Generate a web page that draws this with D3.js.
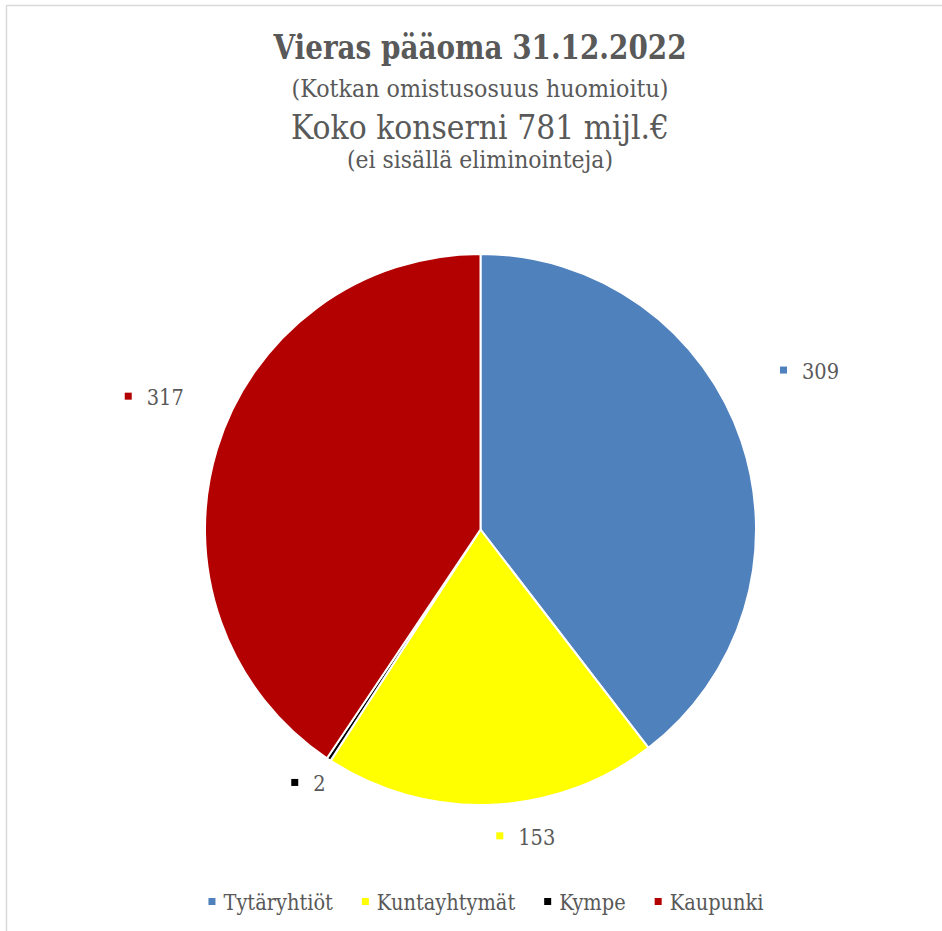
<!DOCTYPE html>
<html>
<head>
<meta charset="utf-8">
<script src="https://cdn.jsdelivr.net/npm/d3@7"></script>
<style>
  body { margin: 0; background: #fff; }
  svg text { fill: #595959; }
</style>
</head>
<body>
<div id="vis"></div>
<script>
// data
var categories = ['Tytäryhtiöt', 'Kuntayhtymät', 'Kympe', 'Kaupunki'];
var values = [309, 153, 2, 317];
var colors = ['#4f81bd', '#ffff00', '#000000', '#b30000'];
var titleLines = [
  'Vieras pääoma 31.12.2022',
  '(Kotkan omistusosuus huomioitu)',
  'Koko konserni 781 mijl.€',
  '(ei sisällä eliminointeja)'
];

// layout
var width = 942, height = 931;
var cx = 480.5, cy = 529.5, radius = 275.5;
var serif = "'DejaVu Serif', serif";
var fs = 0.91;   // DejaVu Serif is taller than Times, scale sizes down
// nudges for the data labels (Excel best fit is not regular)
var labelNudge = [[16, -52], [32, -23], [10, -22], [-10, -36]];

var svg = d3.select('#vis').append('svg')
  .attr('width', width)
  .attr('height', height)
  .attr('font-family', serif);

// outer chart border
svg.append('rect')
  .attr('x', 6.5).attr('y', 5.5)
  .attr('width', 1000).attr('height', 1000)
  .attr('fill', 'none')
  .attr('stroke', '#d9d9d9')
  .attr('stroke-width', 1.5);

// squeeze a text horizontally to a given length
function squeeze(node, len) {
  d3.select(node)
    .attr('textLength', len)
    .attr('lengthAdjust', 'spacingAndGlyphs');
}

// title (widths)
var titleStyle = [
  { size: 37, weight: 'bold', y: 59, w: 413 },
  { size: 27.5, weight: 'normal', y: 97, w: 377 },
  { size: 37, weight: 'normal', y: 139, w: 378 },
  { size: 27.5, weight: 'normal', y: 168, w: 266 }
];
var ratio = 1;
svg.selectAll('.title')
  .data(titleLines)
  .enter().append('text')
  .attr('class', 'title')
  .attr('x', 480)
  .attr('y', function(d, i) { return titleStyle[i].y; })
  .attr('text-anchor', 'middle')
  .attr('font-size', function(d, i) { return titleStyle[i].size * fs; })
  .attr('font-weight', function(d, i) { return titleStyle[i].weight; })
  .text(function(d) { return d; })
  .each(function(d, i) {
    var w = this.getComputedTextLength();
    if (i === 2) ratio = titleStyle[i].w / w;
    squeeze(this, titleStyle[i].w);
  });

var data = categories.map(function(c, i) { return { name: c, value: values[i], color: colors[i] }; });

var pie = d3.pie()
  .sort(null)
  .value(function(d) { return d.value; });

var arc = d3.arc().innerRadius(0).outerRadius(radius);
var labelArc = d3.arc().innerRadius(radius * 1.2).outerRadius(radius * 1.2);

var g = svg.append('g')
  .attr('transform', 'translate(' + cx + ',' + cy + ')');

var arcs = pie(data);

g.selectAll('.slice')
  .data(arcs)
  .enter().append('path')
  .attr('class', 'slice')
  .attr('d', arc)
  .attr('fill', function(d) { return d.data.color; })
  .attr('stroke', '#fff')
  .attr('stroke-width', 2)
  .attr('stroke-linejoin', 'round');

// data labels: small square + value
var labels = g.selectAll('.lbl')
  .data(arcs)
  .enter().append('g')
  .attr('class', 'lbl');

labels.each(function(d, i) {
  var lg = d3.select(this);
  var p = labelArc.centroid(d);
  var lx = p[0] + labelNudge[i][0];
  var ly = p[1] + labelNudge[i][1];
  var t = lg.append('text')
    .attr('font-size', 24 * fs)
    .text(d.data.value);
  var w = t.node().getComputedTextLength() * ratio;
  squeeze(t.node(), w);
  var left = lx - (22 + w) / 2;
  var base = ly + 8;
  t.attr('x', left + 22).attr('y', base);
  lg.append('rect')
    .attr('x', left).attr('y', base - 12.5)
    .attr('width', 7).attr('height', 7)
    .attr('fill', d.data.color);
});

// legend
var legend = svg.append('g');
var items = legend.selectAll('.item')
  .data(data)
  .enter().append('g')
  .attr('class', 'item');

items.append('rect')
  .attr('width', 7).attr('height', 7)
  .attr('y', 898)
  .attr('fill', function(d) { return d.color; });

items.append('text')
  .attr('font-size', 24 * fs)
  .attr('y', 910)
  .text(function(d) { return d.name; });

var xpos = 0, offsets = [];
items.each(function(d) {
  var t = d3.select(this).select('text').node();
  var w = t.getComputedTextLength() * ratio;
  squeeze(t, w);
  offsets.push(xpos);
  xpos += 7 + 8 + w + 29;
});
var total = xpos - 29;
var start = 486 - total / 2;
items.each(function(d, i) {
  var it = d3.select(this);
  it.select('rect').attr('x', start + offsets[i]);
  it.select('text').attr('x', start + offsets[i] + 15);
});
</script>
</body>
</html>
